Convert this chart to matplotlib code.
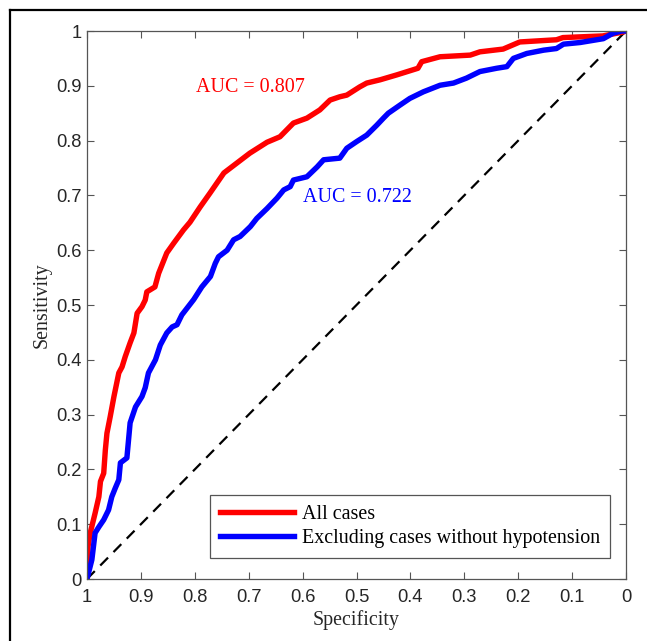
import matplotlib
matplotlib.use("Agg")
import matplotlib.pyplot as plt
from matplotlib.lines import Line2D

# curva ROC de todos los casos (especificidad, sensibilidad)
especificidad_todos = [1.0, 0.998, 0.994, 0.985, 0.978, 0.975, 0.969, 0.966, 0.963, 0.957, 0.950,
                       0.941, 0.935, 0.929, 0.920, 0.913, 0.907, 0.898, 0.892, 0.889, 0.874,
                       0.867, 0.852, 0.839, 0.821, 0.809, 0.790, 0.772, 0.746, 0.722, 0.698,
                       0.666, 0.642, 0.617, 0.592, 0.568, 0.549, 0.531, 0.518, 0.494, 0.481,
                       0.456, 0.425, 0.386, 0.379, 0.345, 0.289, 0.271, 0.228, 0.197, 0.129,
                       0.117, 0.043, 0.006, 0.0]
sensibilidad_todos = [0.0, 0.060, 0.084, 0.120, 0.150, 0.178, 0.193, 0.235, 0.266, 0.296, 0.333,
                      0.376, 0.387, 0.406, 0.431, 0.449, 0.485, 0.497, 0.509, 0.524, 0.533,
                      0.558, 0.595, 0.613, 0.637, 0.651, 0.679, 0.704, 0.741, 0.759, 0.777,
                      0.797, 0.807, 0.832, 0.841, 0.856, 0.874, 0.880, 0.883, 0.898, 0.905,
                      0.911, 0.920, 0.932, 0.944, 0.953, 0.956, 0.962, 0.967, 0.980, 0.984,
                      0.988, 0.991, 0.998, 1.0]

# curva ROC excluyendo casos sin hipotension
especificidad_excl = [1.0, 0.991, 0.985, 0.978, 0.969, 0.960, 0.954, 0.9475, 0.941, 0.938, 0.926,
                      0.920, 0.910, 0.898, 0.892, 0.886, 0.873, 0.864, 0.852, 0.842, 0.833,
                      0.824, 0.802, 0.787, 0.771, 0.762, 0.756, 0.740, 0.728, 0.716, 0.697,
                      0.685, 0.666, 0.6475, 0.635, 0.623, 0.617, 0.592, 0.573, 0.561, 0.531,
                      0.518, 0.500, 0.481, 0.4625, 0.450, 0.441, 0.419, 0.401, 0.376, 0.345,
                      0.320, 0.296, 0.271, 0.240, 0.221, 0.209, 0.184, 0.153, 0.129, 0.116,
                      0.085, 0.042, 0.024, 0.008, 0.0]
sensibilidad_excl = [0.0, 0.035, 0.084, 0.095, 0.108, 0.126, 0.150, 0.166, 0.181, 0.212, 0.221,
                     0.285, 0.314, 0.333, 0.349, 0.376, 0.400, 0.427, 0.449, 0.460, 0.464,
                     0.482, 0.510, 0.533, 0.552, 0.576, 0.588, 0.600, 0.619, 0.625, 0.643,
                     0.658, 0.676, 0.695, 0.710, 0.716, 0.728, 0.734, 0.752, 0.765, 0.768,
                     0.786, 0.798, 0.810, 0.828, 0.841, 0.850, 0.865, 0.877, 0.889, 0.901,
                     0.905, 0.914, 0.926, 0.932, 0.935, 0.950, 0.959, 0.965, 0.968, 0.976,
                     0.979, 0.986, 0.996, 1.0, 1.0]

etiquetas = ["All cases", "Excluding cases without hypotension"]
textos_auc = ["AUC = 0.807", "AUC = 0.722"]
ticks = [0, 0.1, 0.2, 0.3, 0.4, 0.5, 0.6, 0.7, 0.8, 0.9, 1]
tick_labels = ["0", "0.1", "0.2", "0.3", "0.4", "0.5", "0.6", "0.7", "0.8", "0.9", "1"]

serif = "Liberation Serif"
sans = "Liberation Sans"
gris = "#262626"
tam = 14.4

fig = plt.figure(figsize=(6.47, 6.41), dpi=100)
ax = fig.add_axes([87 / 647, 1 - 579 / 641, 539 / 647, 548 / 641])

ax.plot([1, 0], [0, 1], color="black", linestyle=(0, (5, 3.5)), linewidth=1.6)
ax.plot(especificidad_todos, sensibilidad_todos, color="#ff0000", linewidth=3.9, label=etiquetas[0])
ax.plot(especificidad_excl, sensibilidad_excl, color="#0000ff", linewidth=3.9, label=etiquetas[1])

ax.text(0.696, 0.896, textos_auc[0], color="#ff0000", fontsize=tam, family=serif,
        ha="center", va="center")
ax.text(0.499, 0.697, textos_auc[1], color="#0000ff", fontsize=tam, family=serif,
        ha="center", va="center")

ax.set_xlim(1, 0)
ax.set_ylim(0, 1)
ax.set_xticks(ticks)
ax.set_xticklabels(tick_labels, family=sans, fontsize=13.2, color=gris)
ax.set_yticks(ticks)
ax.set_yticklabels(tick_labels, family=sans, fontsize=13.2, color=gris)
ax.tick_params(direction="in", length=5, width=0.8, color="#555555", top=True, right=True)
ax.tick_params(axis="x", pad=7)
ax.tick_params(axis="y", pad=4)
for lado in ax.spines.values():
    lado.set_color("#555555")
    lado.set_linewidth(0.9)

ax.set_xlabel("Specificity", family=serif, fontsize=tam, color=gris, labelpad=3)
ax.set_ylabel("Sensitivity", family=serif, fontsize=tam, color=gris, labelpad=3)

leg = ax.legend(loc="lower right", bbox_to_anchor=(0.971, 0.038), prop={"family": serif, "size": tam},
                fancybox=False, framealpha=1, edgecolor="#555555", handlelength=3.7,
                handletextpad=0.4, borderpad=0.5, labelspacing=0.25, borderaxespad=0)
leg.get_frame().set_linewidth(0.9)

# marco exterior (solo izquierda y arriba visibles)
fig.add_artist(Line2D([10 / 647, 10 / 647], [0, 1 - 10 / 641], color="black", linewidth=1.6))
fig.add_artist(Line2D([10 / 647, 1], [1 - 10 / 641, 1 - 10 / 641], color="black", linewidth=1.6))

fig.savefig("out.png", dpi=100)
